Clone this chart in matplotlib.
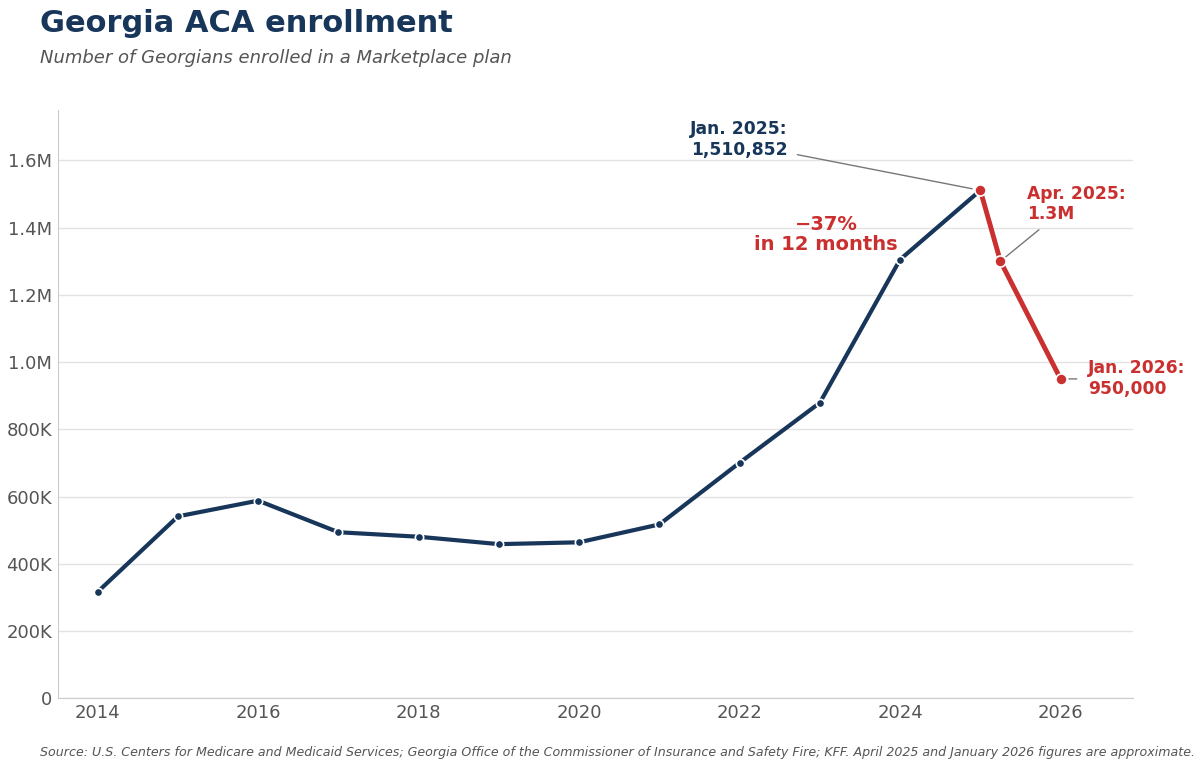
import matplotlib.pyplot as plt
from matplotlib.ticker import FuncFormatter

# enrollment by year (January figures)
years = [2014, 2015, 2016, 2017, 2018, 2019, 2020, 2021, 2022, 2023, 2024, 2025]
enrolled = [316543, 541080, 587845, 493880, 480451, 458437, 463910, 517113, 700636, 879084, 1305114, 1510852]

# recent decline, approximate
drop_x = [2025.0, 2025.25, 2026.0]
drop_y = [1510852, 1300000, 950000]

navy = "#17365a"
red = "#c9302f"
grey = "#555555"

fig = plt.figure(figsize=(12, 7.69), dpi=100)
ax = fig.add_axes([0.048, 0.092, 0.896, 0.765])

ax.plot(years, enrolled, color=navy, lw=3, marker="o", ms=6,
        mfc=navy, mec="white", mew=1.2, zorder=3, solid_capstyle="round")
ax.plot(drop_x, drop_y, color=red, lw=3.5, marker="o", ms=8,
        mfc=red, mec="white", mew=1.2, zorder=4, solid_capstyle="round")

ax.set_xlim(2013.5, 2026.9)
ax.set_ylim(0, 1750000)
ax.set_xticks([2014, 2016, 2018, 2020, 2022, 2024, 2026])
ax.set_yticks([0, 200000, 400000, 600000, 800000, 1000000, 1200000, 1400000, 1600000])


def fmt(v, pos):
    if v == 0:
        return "0"
    if v >= 1000000:
        return f"{v / 1e6:.1f}M"
    return f"{int(v / 1000)}K"


ax.yaxis.set_major_formatter(FuncFormatter(fmt))
ax.tick_params(axis="both", labelsize=13, colors=grey, length=0)
ax.tick_params(axis="y", pad=4)
ax.tick_params(axis="x", pad=4)
ax.grid(axis="y", color="#e3e3e3", lw=1)
ax.set_axisbelow(True)
for s in ["top", "right"]:
    ax.spines[s].set_visible(False)
for s in ["left", "bottom"]:
    ax.spines[s].set_color("#cccccc")

# annotations
ax.annotate("Jan. 2025:\n1,510,852", xy=(2025.0, 1510852), xytext=(2022.6, 1663000),
            ha="right", va="center", fontsize=12.3, fontweight="bold", color=navy,
            arrowprops=dict(arrowstyle="-", color="#777777", lw=1,
                            relpos=(1.0, 0.15), shrinkA=5, shrinkB=6))
ax.annotate("Apr. 2025:\n1.3M", xy=(2025.25, 1300000), xytext=(2025.58, 1470000),
            ha="left", va="center", fontsize=12.3, fontweight="bold", color=red,
            arrowprops=dict(arrowstyle="-", color="#777777", lw=1,
                            relpos=(0.2, 0.0), shrinkA=4, shrinkB=5))
ax.annotate("Jan. 2026:\n950,000", xy=(2026.0, 950000), xytext=(2026.34, 950000),
            ha="left", va="center", fontsize=12.3, fontweight="bold", color=red,
            arrowprops=dict(arrowstyle="-", color="#777777", lw=1,
                            shrinkA=6, shrinkB=6))
ax.text(2023.08, 1380000, "\u221237%\nin 12 months", ha="center", va="center",
        fontsize=14, fontweight="bold", color=red, linespacing=1.1)

fig.text(0.033, 0.969, "Georgia ACA enrollment", fontsize=22, fontweight="bold",
         color=navy, va="center")
fig.text(0.033, 0.925, "Number of Georgians enrolled in a Marketplace plan",
         fontsize=13, style="italic", color=grey, va="center")
fig.text(0.033, 0.022, "Source: U.S. Centers for Medicare and Medicaid Services; Georgia Office of the "
         "Commissioner of Insurance and Safety Fire; KFF. April 2025 and January 2026 figures are approximate.",
         fontsize=9.1, style="italic", color=grey, va="center")

fig.savefig("out.png", dpi=100, facecolor="white")
